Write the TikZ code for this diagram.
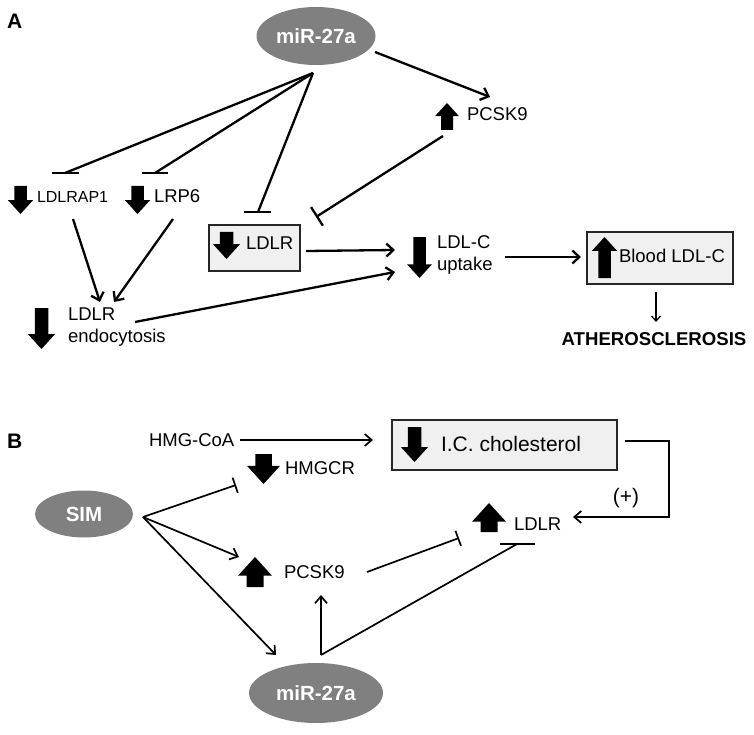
\documentclass[tikz,border=0pt]{standalone}
\usepackage{fontspec}
\setmainfont{Liberation Sans}
\usetikzlibrary{arrows.meta,shapes.geometric}
\newcommand\blkdn[4]{\fill ({#1-#3/4},#2) -- ({#1+#3/4},#2) -- ({#1+#3/4},{#2+#4-0.55*#3}) -- ({#1+#3/2},{#2+#4-0.55*#3}) -- (#1,{#2+#4}) -- ({#1-#3/2},{#2+#4-0.55*#3}) -- ({#1-#3/4},{#2+#4-0.55*#3}) -- cycle;}
\newcommand\blkup[4]{\fill (#1,#2) -- ({#1+#3/2},{#2+0.55*#3}) -- ({#1+#3/4},{#2+0.55*#3}) -- ({#1+#3/4},{#2+#4}) -- ({#1-#3/4},{#2+#4}) -- ({#1-#3/4},{#2+0.55*#3}) -- ({#1-#3/2},{#2+0.55*#3}) -- cycle;}
\begin{document}
\begin{tikzpicture}[x=1pt,y=-1pt,
  every node/.style={inner sep=0pt,outer sep=0pt},
  txt/.style={font=\fontsize{18.5}{22}\selectfont,anchor=base west},
  oval/.style={ellipse,fill=gray,text=white,font=\fontsize{20.5}{24}\selectfont\bfseries},
  gbox/.style={draw=black!85,fill=gray!12},
  lineA/.style={line width=2.3pt},
  arrA/.style={line width=2.3pt,-{Straight Barb[length=7pt,width=13pt]}},
  lineB/.style={line width=1.7pt},
  arrB/.style={line width=1.7pt,-{Straight Barb[length=7pt,width=12pt]}},
  barB/.style={line width=1.7pt,-{Bar[width=16pt]}},
]
\useasboundingbox (0,0) rectangle (754,735);

% ================= Panel A =================
\node[font=\fontsize{21}{22}\selectfont\bfseries,anchor=base west] (labA) at (7,29) {A};
\node[oval,minimum width=119pt,minimum height=58pt] (mirA) at (316,36) {miR-27a};

\node[txt,font=\fontsize{16}{20}\selectfont] (ldlrap) at (37,203) {LDLRAP1};
\blkdn{20.5}{186}{25}{28}
\node[txt] (lrp6) at (154,203) {LRP6};
\blkdn{137.5}{186}{25}{28}

\draw[gbox,line width=2.2pt] (209,225) rectangle (300,271);
\node[txt] (ldlrA) at (246,249) {LDLR};
\blkdn{226.5}{232}{27}{27}

\node[txt] (pcskA) at (467,121) {PCSK9};
\blkup{447}{103}{24}{27}

\node[txt,align=left,anchor=north west] (endo) at (68,308) {LDLR\\[0pt]endocytosis};
\blkdn{41.5}{308}{27}{41}

\node[txt,align=left,anchor=north west] (upt) at (437,236) {LDL-C\\uptake};
\blkdn{419.5}{237}{25}{41}

\draw[gbox,line width=2.2pt] (587,232) rectangle (733,284);
\node[txt] (blood) at (619,262) {Blood LDL-C};
\blkup{604.5}{237}{25}{41}

\node[font=\fontsize{18.6}{22}\selectfont\bfseries,anchor=base] (ath) at (654,345) {ATHEROSCLEROSIS};

% connectors A
\coordinate (hubA) at (313,73);
\coordinate (tLDLRAP) at (65,173);
\coordinate (tLRP) at (155,173);
\coordinate (tLDLR) at (258,212);
\draw[lineA] (hubA) -- (tLDLRAP);
\draw[lineA] (hubA) -- (tLRP);
\draw[lineA] (hubA) -- (tLDLR);
\draw[lineA] (52,173) -- (79,173);
\draw[lineA] (142,173) -- (168,173);
\draw[lineA] (244,212) -- (271,212);

\coordinate (mirAo) at (375,52);
\coordinate (pcskAi) at (490,97);
\draw[arrA] (mirAo) -- (pcskAi);

\coordinate (pcskAo) at (443,136);
\coordinate (ldlrAi) at (316,217);
\draw[lineA,-{Bar[width=22pt]}] (pcskAo) -- (ldlrAi);

\draw[arrA] (73,219) -- (100,302);
\draw[arrA] (173,219) -- (114,302);

\coordinate (ldlrAo) at (306,251);
\coordinate (uptI1) at (395,250);
\draw[arrA] (ldlrAo) -- (uptI1);
\coordinate (endoO) at (135,322);
\coordinate (uptI2) at (395,272);
\draw[arrA] (endoO) -- (uptI2);

\coordinate (uptO) at (505,257);
\coordinate (bloodI) at (581,257);
\draw[arrA] (uptO) -- (bloodI);

\coordinate (bloodO) at (656,292);
\coordinate (athI) at (656,322);
\draw[line width=1.3pt,-{Straight Barb[length=5pt,width=9pt]}] (bloodO) -- (athI);

% ================= Panel B =================
\node[font=\fontsize{21}{22}\selectfont\bfseries,anchor=base west] (labB) at (7,448) {B};

\node[txt] (hmg) at (149,446) {HMG-CoA};
\node[txt] (hmgcr) at (285,474) {HMGCR};
\blkdn{263.5}{454}{33}{30}

\node[oval,minimum width=98pt,minimum height=47pt] (sim) at (84,514) {SIM};

\node[txt] (pcskB) at (284,578) {PCSK9};
\blkup{255}{557}{34}{30}

\node[oval,minimum width=134pt,minimum height=60pt] (mirB) at (316,693) {miR-27a};

\node[txt] (ldlrB) at (514,530) {LDLR};
\blkup{489}{503}{34}{29}

\draw[gbox,line width=2.6pt] (392,420) rectangle (617,470);
\node[txt,font=\fontsize{21}{24}\selectfont] (ic) at (441,451) {I.C. cholesterol};
\blkdn{414.5}{427}{27}{35}

\node[font=\fontsize{21}{24}\selectfont] (plus) at (626,498) {(+)};

% connectors B
\coordinate (hmgO) at (240,440);
\coordinate (icI) at (373,440);
\draw[arrB] (hmgO) -- (icI);

\coordinate (hubS) at (143,517);
\draw[barB] (hubS) -- (236,485);
\draw[arrB] (hubS) -- (239,557);
\draw[arrB] (hubS) -- (276,655);

\coordinate (hubM) at (321,655);
\coordinate (pcskBi) at (321,595);
\draw[arrB] (hubM) -- (pcskBi);
\coordinate (ldlrBb) at (517,544);
\draw[lineB] (hubM) -- (ldlrBb);
\draw[lineB] (500,544) -- (535,544);

\coordinate (pcskBo) at (367,572);
\coordinate (ldlrBi) at (459,538);
\draw[barB] (pcskBo) -- (ldlrBi);

\coordinate (icO) at (625,441);
\coordinate (ldlrBr) at (573,517);
\draw[arrB] (icO) -- (669,441) -- (669,517) -- (ldlrBr);
\end{tikzpicture}
\end{document}
